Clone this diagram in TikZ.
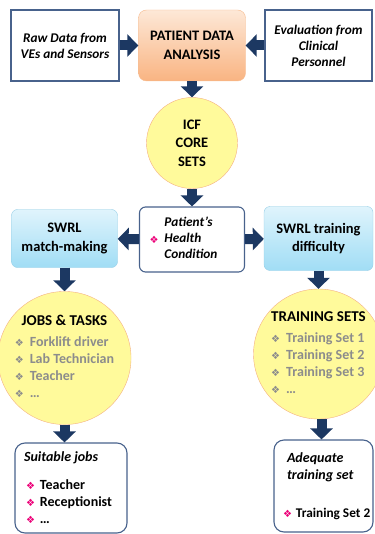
\documentclass[tikz,border=0pt]{standalone}
\usepackage{fontspec}
\setmainfont{Carlito}
\newfontfamily\dingfont{DejaVu Sans}
\usetikzlibrary{arrows.meta}

\definecolor{navy}{RGB}{28,56,98}
\definecolor{boxline}{RGB}{72,98,140}
\definecolor{peachtop}{RGB}{253,232,215}
\definecolor{peachbot}{RGB}{249,180,130}
\definecolor{peachline}{RGB}{246,188,145}
\definecolor{skytop}{RGB}{224,244,252}
\definecolor{skybot}{RGB}{160,221,245}
\definecolor{skyline}{RGB}{150,206,230}
\definecolor{discfill}{RGB}{255,250,155}
\definecolor{discline}{RGB}{244,177,131}
\definecolor{itemgray}{RGB}{140,140,140}
\definecolor{markpink}{RGB}{236,0,120}

\newcommand{\pinkmark}{{\dingfont\fontsize{10}{10}\selectfont\color{markpink}❖}}
\newcommand{\graymark}{{\dingfont\fontsize{10}{10}\selectfont\color{itemgray}❖}}
\newcommand{\grayitem}[1]{\graymark\hspace{6pt}{\color{itemgray}#1}}

\begin{document}
\begin{tikzpicture}[x=1pt, y=-1pt,
    every node/.style={font=\fontsize{14.5}{18.5}\selectfont\bfseries},
    itext/.style={font=\fontsize{13.3}{16}\selectfont\bfseries\itshape},
    listtext/.style={font=\fontsize{14}{17}\selectfont\bfseries},
    plainbox/.style={draw=boxline, line width=1.1pt, fill=white, align=center},
    softbox/.style={plainbox, rounded corners=6pt},
    peachbox/.style={draw=peachline, rounded corners=8pt, top color=peachtop, bottom color=peachbot, align=center},
    skybox/.style={draw=skyline, rounded corners=6pt, top color=skytop, bottom color=skybot, align=center},
    yellowdisc/.style={circle, draw=discline, fill=discfill, inner sep=0pt, align=center},
    fatarrow/.style={draw=navy, line width=10pt, -{Triangle[length=11pt, width=22pt]}}
  ]
    \useasboundingbox (0,0) rectangle (374,534);

    \node[plainbox, itext, minimum width=108pt, minimum height=71pt] (raw) at (65,45.5) {Raw Data from\\VEs and Sensors};
    \node[peachbox, minimum width=107pt, minimum height=71pt] (pda) at (192,45.5) {PATIENT DATA\\ANALYSIS};
    \node[plainbox, itext, minimum width=107pt, minimum height=71pt] (eval) at (318.5,45.5) {Evaluation from\\Clinical\\Personnel};

    \node[yellowdisc, minimum size=91pt] (icf) at (192,143) {ICF\\CORE\\SETS};

    \node[softbox, itext, minimum width=105pt, minimum height=65pt, text width=85pt, inner xsep=10pt, align=flush left] (phc) at (192,239.5)
        {\pinkmark\hspace{6pt}\begin{tabular}[c]{@{}l@{}}Patient’s\\Health\\Condition\end{tabular}};
    \node[skybox, minimum width=106pt, minimum height=58pt] (swmm) at (64.5,238.5) {SWRL\\match-making};
    \node[skybox, minimum width=109pt, minimum height=64pt] (swtd) at (318.5,238.5) {SWRL training\\difficulty};

    \node[yellowdisc, listtext, minimum size=130pt] (jobs) at (64.5,358) {%
        \begin{tabular}{@{}l@{}}
        \multicolumn{1}{@{}c@{}}{\fontsize{15}{17}\selectfont JOBS \& TASKS}\\[4pt]
        \grayitem{Forklift driver}\\
        \grayitem{Lab Technician}\\
        \grayitem{Teacher}\\
        \grayitem{…}
        \end{tabular}};
    \node[yellowdisc, listtext, minimum size=130pt] (sets) at (318.5,354) {%
        \begin{tabular}{@{}l@{}}
        \multicolumn{1}{@{}c@{}}{\fontsize{15}{17}\selectfont TRAINING SETS}\\[4pt]
        \grayitem{Training Set 1}\\
        \grayitem{Training Set 2}\\
        \grayitem{Training Set 3}\\
        \grayitem{…}
        \end{tabular}};

    \node[softbox, listtext, rounded corners=10pt, minimum width=112pt, minimum height=90pt, text width=94pt, inner xsep=9pt, align=flush left] (suit) at (71,488)
        {\textit{Suitable jobs}\\[11pt]
         \hspace{2pt}\pinkmark\hspace{5pt}Teacher\\
         \hspace{2pt}\pinkmark\hspace{5pt}Receptionist\\
         \hspace{2pt}\pinkmark\hspace{5pt}…};
    \node[softbox, listtext, rounded corners=10pt, minimum width=99pt, minimum height=92pt, text width=81pt, inner xsep=9pt, align=flush left] (adeq) at (323.5,486)
        {\hspace{4pt}\textit{Adequate}\\
         \hspace{4pt}\textit{training set}\\[21pt]
         \mbox{\pinkmark\hspace{4pt}{\fontsize{13.3}{17}\selectfont Training Set 2}}};

    \draw[fatarrow] (raw) -- (pda);
    \draw[fatarrow] (eval) -- (pda);
    \draw[fatarrow] (pda) -- (icf);
    \draw[fatarrow] (icf) -- (phc);
    \draw[fatarrow] (phc) -- (swmm);
    \draw[fatarrow] (phc) -- (swtd);
    \draw[fatarrow] (swmm) -- (jobs);
    \draw[fatarrow] (swtd) -- (sets);
    \draw[fatarrow] (jobs.south) -- (jobs.south |- suit.north);
    \draw[fatarrow] ([xshift=3pt]sets.south) -- ([xshift=3pt]sets.south |- adeq.north);
\end{tikzpicture}
\end{document}
